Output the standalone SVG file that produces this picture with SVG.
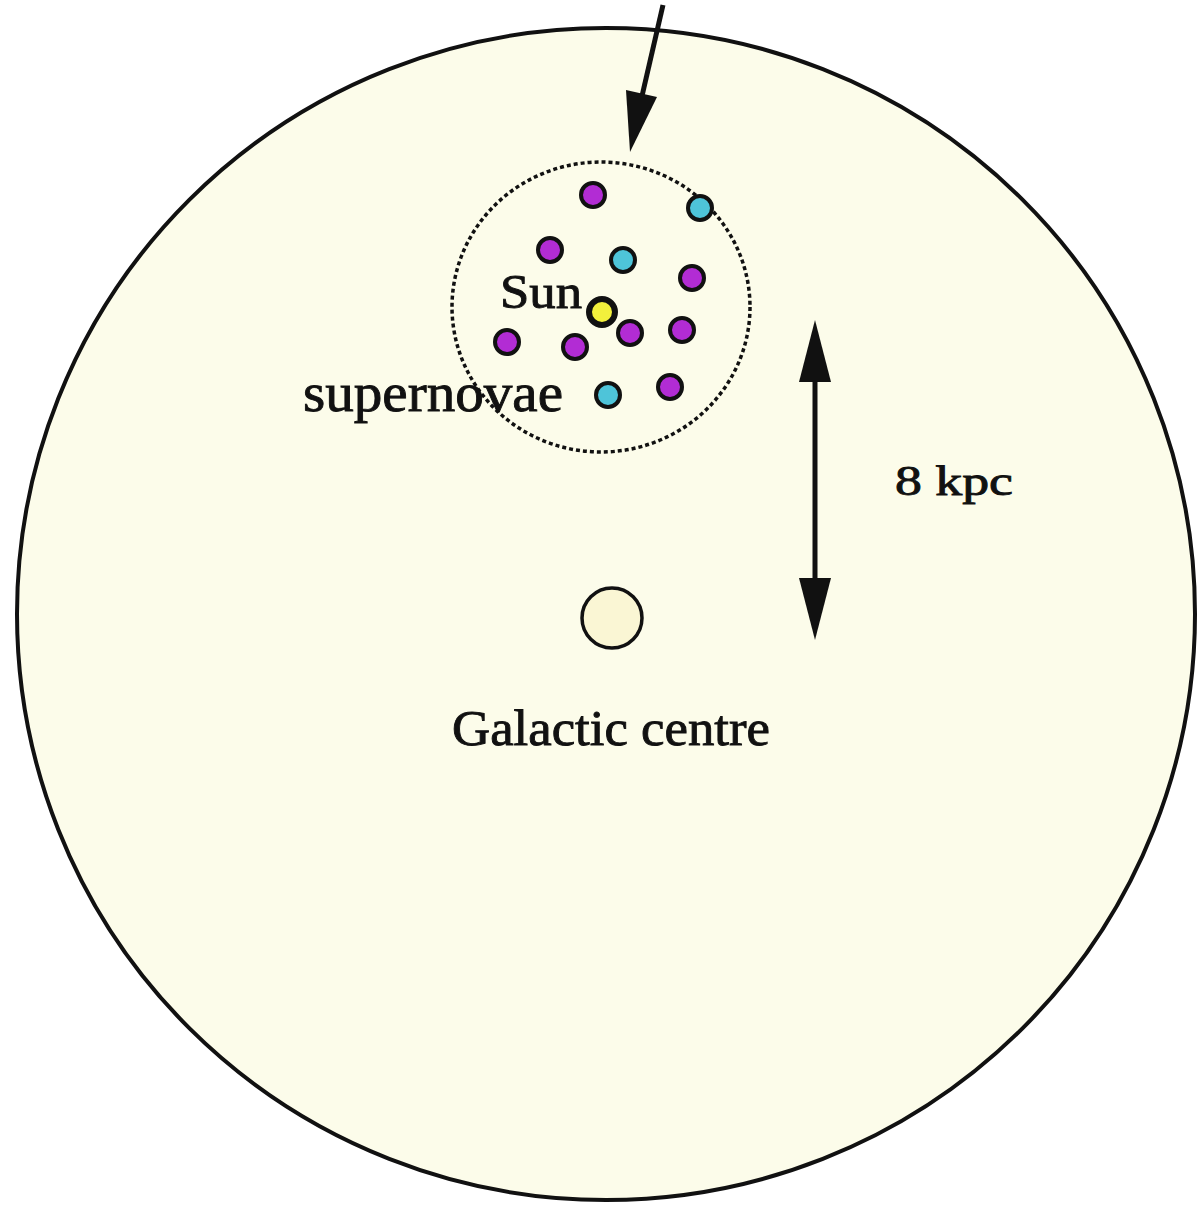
<svg xmlns="http://www.w3.org/2000/svg" width="1198" height="1207" viewBox="0 0 1198 1207">
<defs>
<style>
.lbl{font-family:"Liberation Serif","DejaVu Serif",serif;fill:#111;stroke:#111;stroke-width:0.9;}
.sn{stroke:#111;stroke-width:4;}
.p{fill:#B22CD4;}
.c{fill:#4EC4D9;}
</style>
</defs>
<rect x="0" y="0" width="1198" height="1207" fill="#ffffff"/>
<g id="galaxy">
<ellipse cx="606" cy="614" rx="589" ry="586" fill="#FCFCEA" stroke="#111" stroke-width="4"/>
</g>
<g id="neighbourhood">
<ellipse cx="601" cy="307" rx="149" ry="145" fill="none" stroke="#111" stroke-width="3.5" stroke-dasharray="4 3"/>
</g>
<g id="supernovae-dots">
<circle class="sn p" cx="593" cy="195" r="12"/>
<circle class="sn c" cx="700" cy="208" r="12"/>
<circle class="sn p" cx="550" cy="250" r="12"/>
<circle class="sn c" cx="623" cy="260" r="12"/>
<circle class="sn p" cx="692" cy="278" r="12"/>
<circle class="sn p" cx="630" cy="333" r="12"/>
<circle class="sn p" cx="682" cy="330" r="12"/>
<circle class="sn p" cx="507" cy="342" r="12"/>
<circle class="sn p" cx="575" cy="347" r="12"/>
<circle class="sn c" cx="608" cy="395" r="12"/>
<circle class="sn p" cx="670" cy="387" r="12"/>
</g>
<g id="sun">
<circle cx="602" cy="312" r="13" fill="#F2F03C" stroke="#111" stroke-width="6"/>
<text class="lbl" x="500" y="308" font-size="48" textLength="82" lengthAdjust="spacingAndGlyphs">Sun</text>
</g>
<g id="supernovae-label">
<text class="lbl" x="303" y="411" font-size="55" textLength="260" lengthAdjust="spacingAndGlyphs">supernovae</text>
</g>
<g id="galactic-centre">
<circle cx="612" cy="618" r="30" fill="#FAF6D4" stroke="#111" stroke-width="3.5"/>
<text class="lbl" x="452" y="745" font-size="50" textLength="318" lengthAdjust="spacingAndGlyphs">Galactic centre</text>
</g>
<g id="scale-label">
<text class="lbl" x="895" y="495" font-size="42" textLength="118" lengthAdjust="spacingAndGlyphs">8 kpc</text>
</g>
<g id="connectors">
<line x1="663" y1="5" x2="642" y2="96" stroke="#111" stroke-width="5"/>
<path d="M626,90 L657,97 L630,152 Z" fill="#111"/>
<line x1="815" y1="375" x2="815" y2="585" stroke="#111" stroke-width="5"/>
<path d="M815,320 L831,382 L799,382 Z" fill="#111"/>
<path d="M815,640 L831,578 L799,578 Z" fill="#111"/>
</g>
</svg>
